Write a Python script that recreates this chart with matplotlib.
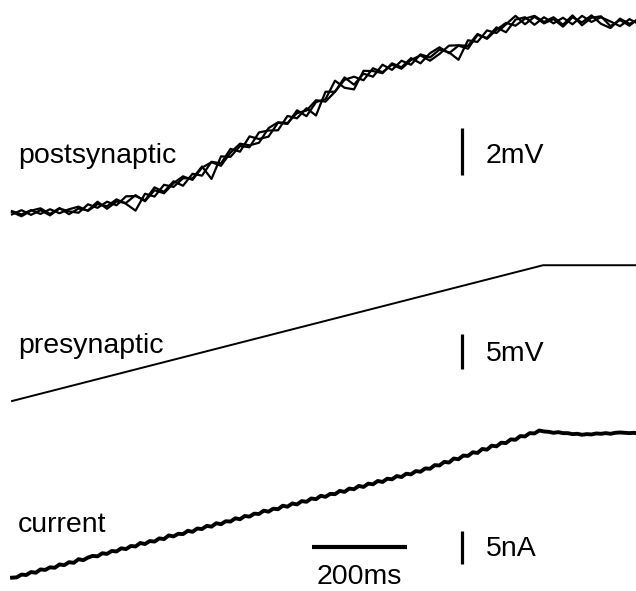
import matplotlib
matplotlib.use("Agg")
import matplotlib.pyplot as plt
import numpy as np

plt.rcParams['font.family'] = ['Liberation Sans', 'DejaVu Sans']

# time base (ms) of the postsynaptic sweeps, one sample every 20 ms
t_post = np.arange(0, 1340, 20)

# postsynaptic mean response (mV above baseline)
post_mean = [0.00, 0.00, 0.02, 0.04, 0.04, 0.09, 0.11, 0.13, 0.21, 0.30,
             0.34, 0.43, 0.51, 0.60, 0.72, 0.85, 1.02, 1.19, 1.36, 1.53,
             1.83, 2.00, 2.21, 2.51, 2.77, 2.98, 3.23, 3.45, 3.66, 3.91,
             4.13, 4.30, 4.60, 4.94, 5.28, 5.49, 5.66, 5.83, 5.96, 6.09,
             6.17, 6.30, 6.43, 6.55, 6.68, 6.81, 6.94, 7.02, 7.19, 7.40,
             7.57, 7.74, 7.91, 8.09, 8.13, 8.17, 8.21, 8.17, 8.13, 8.17,
             8.17, 8.21, 8.17, 8.09, 8.13, 8.13, 8.13]

# deviations of the three individual sweeps from the mean (mV)
sweep_a = [0.08, -0.06, 0.10, -0.08, 0.12, -0.10, 0.05, 0.14, -0.12, 0.08,
           -0.05, 0.15, -0.12, -0.50, 0.10, -0.15, 0.18, -0.08, 0.12, -0.06,
           0.15, -0.55, 0.20, -0.12, 0.08, -0.18, 0.20, 0.06, -0.14, 0.22,
           -0.10, 0.16, -0.45, 0.22, -0.12, 0.28, -0.20, 0.10, -0.16, 0.22,
           -0.08, 0.18, -0.12, 0.20, -0.06, 0.14, -0.10, -0.50, 0.16, -0.12,
           0.20, -0.08, 0.12, 0.30, -0.10, 0.18, -0.14, 0.08, -0.20, 0.16,
           -0.06, 0.20, -0.12, -0.22, 0.14, -0.08, 0.10]
sweep_b = [-0.06, 0.12, -0.10, 0.08, -0.14, 0.10, -0.04, -0.12, 0.16, -0.08,
           0.14, -0.10, 0.20, 0.12, -0.18, 0.24, -0.12, 0.16, -0.20, 0.14,
           -0.24, 0.18, -0.10, 0.22, -0.16, 0.28, -0.08, -0.20, 0.18, -0.12,
           0.24, -0.18, 0.12, -0.10, 0.35, -0.16, -0.40, 0.22, 0.08, -0.14,
           0.20, -0.10, 0.16, -0.18, 0.12, 0.24, -0.14, 0.10, -0.20, 0.18,
           -0.12, 0.16, -0.22, 0.14, 0.20, -0.16, 0.12, -0.10, 0.18, -0.14,
           0.22, -0.08, 0.16, 0.06, -0.18, 0.12, -0.10]
sweep_c = [0.04, -0.14, 0.08, 0.16, -0.08, 0.12, -0.16, 0.06, -0.10, 0.18,
           -0.16, 0.06, -0.08, 0.16, -0.22, 0.12, -0.18, 0.08, 0.20, -0.12,
           0.10, 0.16, -0.20, 0.06, 0.18, -0.10, -0.24, 0.16, 0.20, -0.08,
           0.12, 0.06, 0.20, -0.20, -0.12, 0.18, 0.14, -0.18, 0.20, -0.10,
           0.14, -0.16, 0.08, 0.16, -0.20, -0.04, 0.18, 0.12, -0.08, 0.22,
           -0.16, 0.06, 0.18, -0.12, 0.14, 0.22, -0.08, 0.16, -0.12, 0.24,
           -0.18, 0.10, 0.20, -0.14, 0.08, -0.16, 0.18]

# presynaptic command ramp (mV)
t_pre = [0, 1118, 1320]
pre_v = [0.0, 19.4, 19.4]

# recorded current (nA), one sample every 10 ms
t_cur = np.arange(0, 1330, 10)
current = [0.05, 0.10, 0.52, 0.45, 0.90, 0.80, 1.30, 1.22, 1.62, 1.55,
           2.05, 1.95, 2.40, 2.30, 2.85, 2.70, 3.10, 3.35, 3.28, 3.75,
           3.65, 4.10, 4.02, 4.50, 4.38, 4.85, 4.78, 5.30, 5.15, 5.60,
           5.52, 6.00, 5.90, 6.45, 6.30, 6.70, 6.65, 7.15, 7.00, 7.50,
           7.42, 7.90, 7.78, 8.30, 8.15, 8.60, 8.55, 9.05, 8.90, 9.40,
           9.30, 9.75, 9.70, 10.20, 10.05, 10.50, 10.42, 10.95, 10.80, 11.30,
           11.15, 11.65, 11.55, 12.05, 11.95, 12.45, 12.30, 12.75, 12.70, 13.20,
           13.05, 13.55, 13.45, 13.95, 13.80, 14.30, 14.20, 14.70, 14.55, 15.05,
           14.95, 15.45, 15.30, 15.80, 15.70, 16.20, 16.10, 16.60, 16.55, 17.10,
           17.05, 17.60, 17.50, 18.10, 18.00, 18.55, 18.50, 19.05, 18.95, 19.55,
           19.45, 20.05, 19.95, 20.50, 20.45, 21.00, 20.95, 21.50, 21.45, 21.95,
           21.90, 22.35, 22.20, 22.15, 22.00, 22.10, 21.95, 21.95, 21.80, 21.85,
           21.70, 21.80, 21.75, 21.90, 21.85, 21.95, 21.85, 22.00, 22.05, 22.00,
           21.95, 22.00, 21.85]

fig = plt.figure(figsize=(6.36, 5.91), dpi=100)
xlim = (-25.3, 1313.7)
fs = 20.5


def make_axes(ylim):
    ax = fig.add_axes([0, 0, 1, 1])
    ax.set_xlim(*xlim)
    ax.set_ylim(*ylim)
    ax.axis('off')
    ax.patch.set_alpha(0)
    return ax


# postsynaptic
ax1 = make_axes((-16.085, 9.064))
for sw in (sweep_a, sweep_b, sweep_c):
    ax1.plot(t_post, np.array(post_mean) + np.array(sw), color='black', lw=1.6)
ax1.plot([947, 947], [1.62, 3.62], color='black', lw=2.3, solid_capstyle='butt')
ax1.text(12.6, 2.13, 'postsynaptic', fontsize=fs, va='baseline')
ax1.text(998, 2.13, '2mV', fontsize=fs, va='baseline')

# presynaptic
ax2 = make_axes((-27.14, 57.29))
ax2.plot(t_pre, pre_v, color='black', lw=1.4)
ax2.plot([947, 947], [4.57, 9.57], color='black', lw=2.3, solid_capstyle='butt')
ax2.text(12.6, 6.86, 'presynaptic', fontsize=fs, va='baseline')
ax2.text(998, 5.71, '5mV', fontsize=fs, va='baseline')

# current
ax3 = make_axes((-1.97, 87.58))
ax3.plot(t_cur, current, color='black', lw=2.8)
ax3.plot([947, 947], [2.12, 7.12], color='black', lw=2.3, solid_capstyle='butt')
ax3.plot([631.6, 831.6], [4.7, 4.7], color='black', lw=3, solid_capstyle='butt')
ax3.text(12.6, 6.97, 'current', fontsize=fs, va='baseline')
ax3.text(998, 3.33, '5nA', fontsize=fs, va='baseline')
ax3.text(731.6, -0.91, '200ms', fontsize=fs, va='baseline', ha='center')

fig.savefig('out.png', dpi=100, facecolor='white')
